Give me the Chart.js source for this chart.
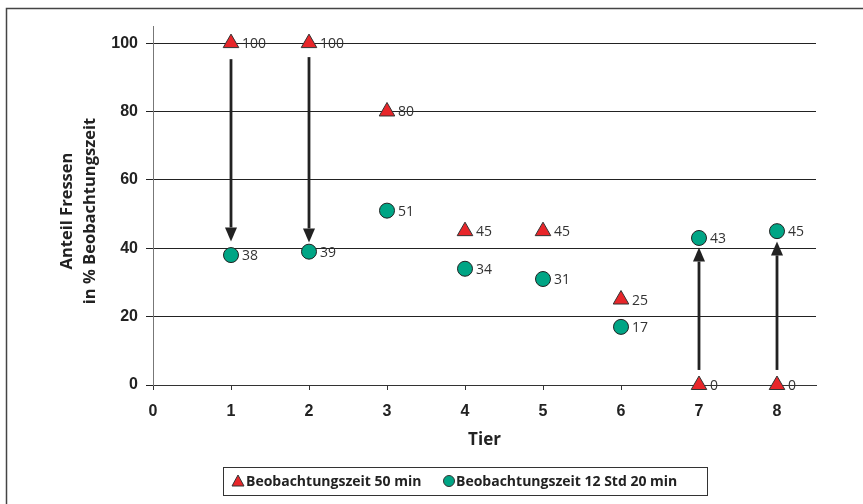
<!DOCTYPE html>
<html>
<head>
<meta charset="utf-8">
<script src="https://cdn.jsdelivr.net/npm/chart.js@4/dist/chart.umd.min.js"></script>
<style>
    html, body { margin: 0; padding: 0; background: #fff; }
    #wrap { position: relative; width: 863px; height: 504px; }
</style>
</head>
<body>
<div id="wrap"><canvas id="chart"></canvas></div>
<script>
// Data
const tiere = [1, 2, 3, 4, 5, 6, 7, 8];
const kurz = [100, 100, 80, 45, 45, 25, 0, 0];      // Beobachtungszeit 50 min
const lang = [38, 39, 51, 34, 31, 17, 43, 45];      // Beobachtungszeit 12 Std 20 min
const yTicks = [0, 20, 40, 60, 80, 100];
const xTicks = [0, 1, 2, 3, 4, 5, 6, 7, 8];
const serienNamen = ['Beobachtungszeit 50 min', 'Beobachtungszeit 12 Std 20 min'];
const yTitel = ['Anteil Fressen', 'in % Beobachtungszeit'];
const xTitel = 'Tier';
// Arrows: x, start value, tip value
const pfeile = [
    { x: 1, von: 95.3, bis: 42 },
    { x: 2, von: 95.9, bis: 41.7 },
    { x: 7, von: 4.4, bis: 40.2 },
    { x: 8, von: 4.4, bis: 42 }
];

const HUMAN = '"Open Sans", sans-serif';
const ARIAL = '"Liberation Sans", Arial, sans-serif';
const ROT = '#e8262a';
const GRUEN = '#00a585';

// Outer frame (only top and left edges are inside the picture)
const rahmenPlugin = {
    id: 'rahmen',
    beforeDraw(chart) {
        const ctx = chart.ctx;
        ctx.save();
        ctx.strokeStyle = '#444';
        ctx.lineWidth = 1.5;
        ctx.beginPath();
        ctx.moveTo(863, 8.5);
        ctx.lineTo(6.5, 8.5);
        ctx.lineTo(6.5, 504);
        ctx.stroke();
        ctx.restore();
    }
};

// Black arrows between the two measurements
const pfeilPlugin = {
    id: 'pfeile',
    beforeDatasetsDraw(chart) {
        const ctx = chart.ctx;
        const xs = chart.scales.x, ys = chart.scales.y;
        ctx.save();
        ctx.strokeStyle = '#222';
        ctx.fillStyle = '#222';
        ctx.lineWidth = 2.8;
        pfeile.forEach(p => {
            const x = xs.getPixelForValue(p.x);
            const y0 = ys.getPixelForValue(p.von);
            const y1 = ys.getPixelForValue(p.bis);
            const dir = y1 > y0 ? 1 : -1;
            const kopf = 14;
            ctx.beginPath();
            ctx.moveTo(x, y0);
            ctx.lineTo(x, y1 - dir * kopf);
            ctx.stroke();
            ctx.beginPath();
            ctx.moveTo(x, y1);
            ctx.lineTo(x - 6, y1 - dir * kopf);
            ctx.lineTo(x + 6, y1 - dir * kopf);
            ctx.closePath();
            ctx.fill();
        });
        ctx.restore();
    }
};

// Value labels right of each point
const wertPlugin = {
    id: 'werte',
    afterDatasetsDraw(chart) {
        const ctx = chart.ctx;
        ctx.save();
        ctx.font = '14px ' + HUMAN;
        ctx.fillStyle = '#333';
        ctx.textBaseline = 'middle';
        ctx.textAlign = 'left';
        chart.data.datasets.forEach((ds, i) => {
            chart.getDatasetMeta(i).data.forEach((pt, j) => {
                ctx.fillText(String(ds.data[j].y), pt.x + 11, pt.y + 1);
            });
        });
        ctx.restore();
    }
};

// Axis titles and the boxed legend
const textPlugin = {
    id: 'texte',
    afterDraw(chart) {
        const ctx = chart.ctx;
        const a = chart.chartArea;
        ctx.save();
        ctx.fillStyle = '#222';
        ctx.font = 'bold 17px ' + HUMAN;
        ctx.textAlign = 'center';
        ctx.textBaseline = 'middle';
        ctx.fillText(xTitel, (a.left + a.right) / 2, 440);

        ctx.save();
        ctx.font = 'bold 16.5px ' + HUMAN;
        ctx.translate(67, 211);
        ctx.rotate(-Math.PI / 2);
        ctx.fillText(yTitel[0], 0, 0);
        ctx.fillText(yTitel[1], 0, 23);
        ctx.restore();

        // legend
        ctx.strokeStyle = '#333';
        ctx.lineWidth = 1;
        ctx.strokeRect(223.5, 467.5, 484, 28);
        ctx.font = 'bold 14px ' + HUMAN;
        ctx.textAlign = 'left';
        const ly = 481;
        const ds = chart.data.datasets;
        // triangle
        ctx.fillStyle = ds[0].backgroundColor;
        ctx.strokeStyle = '#333';
        ctx.beginPath();
        ctx.moveTo(238, ly - 6);
        ctx.lineTo(244, ly + 5);
        ctx.lineTo(232, ly + 5);
        ctx.closePath();
        ctx.fill();
        ctx.stroke();
        ctx.fillStyle = '#222';
        ctx.fillText(ds[0].label, 246, ly + 1);
        // circle
        ctx.fillStyle = ds[1].backgroundColor;
        ctx.beginPath();
        ctx.arc(449, ly, 5.5, 0, Math.PI * 2);
        ctx.fill();
        ctx.stroke();
        ctx.fillStyle = '#222';
        ctx.fillText(ds[1].label, 456, ly + 1);
        ctx.restore();
    }
};

const ctx = document.getElementById('chart').getContext('2d');
new Chart(ctx, {
    type: 'scatter',
    data: {
        datasets: [
            {
                label: serienNamen[0],
                data: tiere.map((t, i) => ({ x: t, y: kurz[i] })),
                pointStyle: 'triangle',
                pointRadius: 9,
                backgroundColor: ROT,
                borderColor: '#333',
                borderWidth: 1,
                clip: false
            },
            {
                label: serienNamen[1],
                data: tiere.map((t, i) => ({ x: t, y: lang[i] })),
                pointStyle: 'circle',
                pointRadius: 7.5,
                backgroundColor: GRUEN,
                borderColor: '#222',
                borderWidth: 1,
                clip: false
            }
        ]
    },
    options: {
        responsive: true,
        maintainAspectRatio: false,
        animation: false,
        layout: { padding: { left: 0, top: 26, right: 47, bottom: 0 } },
        plugins: {
            legend: { display: false },
            tooltip: { enabled: false }
        },
        scales: {
            x: {
                type: 'linear',
                min: 0,
                max: 8.5,
                afterBuildTicks(scale) {
                    scale.ticks = xTicks.map(v => ({ value: v }));
                },
                afterFit(scale) { scale.height = 504 - 385; },
                border: { color: '#333', width: 1 },
                grid: { drawOnChartArea: false, tickLength: 5, color: '#333' },
                ticks: {
                    padding: 12,
                    color: '#222',
                    font: { family: ARIAL, size: 16, weight: 'bold' }
                }
            },
            y: {
                min: 0,
                max: 105,
                afterBuildTicks(scale) {
                    scale.ticks = yTicks.map(v => ({ value: v }));
                },
                afterFit(scale) { scale.width = 153; },
                border: { color: '#777', width: 1 },
                grid: { color: '#222', lineWidth: 1, tickLength: 7 },
                ticks: {
                    padding: 8,
                    color: '#222',
                    font: { family: ARIAL, size: 16, weight: 'bold' }
                }
            }
        }
    },
    plugins: [rahmenPlugin, pfeilPlugin, wertPlugin, textPlugin]
});
</script>
</body>
</html>
